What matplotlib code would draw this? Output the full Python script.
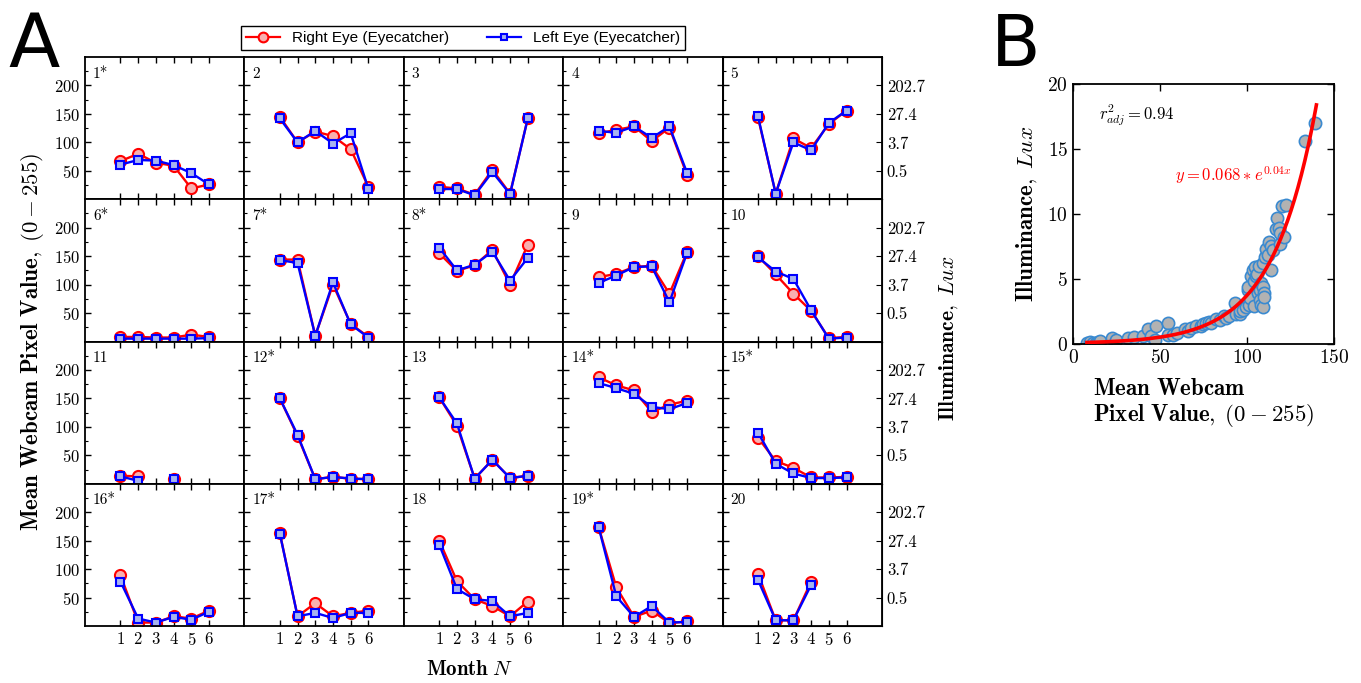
import matplotlib
matplotlib.use('Agg')
import matplotlib.pyplot as plt
import numpy as np
from matplotlib.lines import Line2D

plt.rcParams['font.family'] = ['cmr10']
plt.rcParams['mathtext.fontset'] = 'cm'
plt.rcParams['axes.formatter.use_mathtext'] = True

nan = np.nan

# panel A data (20 subjects, months 1..6)
months = [1, 2, 3, 4, 5, 6]
panel_names = ['1*', '2', '3', '4', '5', '6*', '7*', '8*', '9', '10',
               '11', '12*', '13', '14*', '15*', '16*', '17*', '18', '19*', '20']
right_eye = [
    [67, 80, 64, 59, 19, 26],
    [145, 100, 119, 111, 88, 22],
    [22, 19, 8, 52, 10, 142],
    [116, 122, 128, 102, 126, 42],
    [144, 10, 107, 90, 132, 156],
    [8, 8, 7, 7, 12, 8],
    [144, 144, 10, 100, 31, 8],
    [155, 124, 134, 161, 100, 170],
    [113, 119, 131, 133, 84, 158],
    [150, 118, 84, 54, 6, 8],
    [14, 13, nan, 8, nan, nan],
    [150, 84, 8, 12, 9, 8],
    [152, 102, 9, 42, 10, 14],
    [187, 173, 164, 126, 139, 146],
    [81, 40, 28, 11, 11, 12],
    [89, 6, 6, 17, 13, 27],
    [163, 17, 40, 17, 23, 27],
    [150, 79, 47, 35, 17, 43],
    [174, 68, 16, 27, 5, 8],
    [92, 10, 10, 78, nan, nan],
]
left_eye = [
    [61, 69, 68, 60, 46, 26],
    [142, 100, 120, 98, 116, 18],
    [18, 18, 7, 48, 9, 142],
    [120, 117, 128, 108, 128, 46],
    [146, 10, 100, 86, 134, 156],
    [5, 5, 5, 5, 5, 6],
    [143, 138, 10, 104, 30, 7],
    [165, 125, 135, 158, 107, 147],
    [103, 116, 131, 132, 69, 156],
    [148, 123, 110, 55, 5, 7],
    [13, 5, nan, 8, nan, nan],
    [150, 86, 8, 12, 9, 8],
    [152, 106, 9, 42, 10, 14],
    [177, 168, 158, 135, 131, 142],
    [90, 35, 18, 10, 10, 11],
    [78, 13, 6, 16, 11, 25],
    [162, 17, 23, 14, 23, 23],
    [143, 65, 47, 44, 17, 23],
    [174, 52, 16, 35, 6, 7],
    [81, 10, 10, 72, nan, nan],
]

# panel B data
pixel_values = [8.2, 10, 11.5, 13, 14.4, 15.3, 22.6, 25, 31.6, 35, 40.2, 43.1, 45, 47, 47.5,
                54.6, 54.6, 57.5, 60, 64.2, 66, 68, 70.9, 73.8, 75, 76.6, 78, 79.5, 82, 84.3,
                86.6, 88, 90, 92.9, 93.9, 95.8, 96, 98, 99.6, 101, 100.6, 100.6, 102, 102.5,
                103.4, 104, 104.4, 104, 105.4, 106, 106.3, 107.3, 107, 107.7, 108, 108.2,
                109.2, 109.8, 109.2, 110, 109.2, 110.2, 111.1, 112, 112.6, 113.6, 114, 115,
                116.9, 117.4, 118.4, 118.8, 119, 121.1, 120.3, 122.6, 133.7, 139]
lux_values = [0.05, 0.1, 0.05, 0.05, 0.1, 0.2, 0.4, 0.3, 0.4, 0.5, 0.6, 1.1, 0.6, 0.25, 1.4,
              1.6, 0.7, 0.7, 0.8, 1.1, 1.0, 1.2, 1.4, 1.4, 1.5, 1.6, 1.7, 1.6, 1.9, 1.8,
              2.1, 2.0, 2.1, 3.1, 2.3, 2.3, 2.5, 2.6, 2.8, 3.0, 4.1, 4.4, 3.5, 5.2,
              5.7, 4.8, 5.9, 2.9, 5.2, 5.4, 3.9, 4.1, 6.0, 3.4, 4.7, 3.0,
              4.4, 3.9, 2.8, 3.6, 6.2, 6.7, 7.3, 6.8, 7.8, 5.7, 7.5, 7.2,
              8.8, 9.7, 8.9, 7.7, 8.5, 8.2, 10.6, 10.7, 15.6, 17.0]
fit_a = 0.068
fit_b = 0.04


def to_lux(v):
    return fit_a * np.exp(fit_b * v)


fig = plt.figure(figsize=(13.61, 6.83), dpi=100)
gs = fig.add_gridspec(4, 5, left=0.0625, right=0.648, top=0.9165, bottom=0.0835,
                      wspace=0, hspace=0)

red_face = '#f8b0b0'
blue_face = '#a8b4f0'

for i in range(20):
    row, col = divmod(i, 5)
    ax = fig.add_subplot(gs[row, col])
    ax.plot(months, right_eye[i], '-o', color='red', mfc=red_face, mec='red',
            ms=8, mew=1.5, lw=1.7)
    ax.plot(months, left_eye[i], '-s', color='blue', mfc=blue_face, mec='blue',
            ms=5.5, mew=1.5, lw=1.7)
    ax.set_xlim(-1, 8)
    ax.set_ylim(0, 250)
    ax.set_xticks(months)
    ax.set_yticks([50, 100, 150, 200])
    ax.set_yticks([25, 75, 125, 175, 225], minor=True)
    ax.tick_params(which='major', direction='in', top=True, right=True,
                   length=4.5, width=1, labelsize=12)
    ax.tick_params(which='minor', direction='in', right=False, length=2, width=0.8)
    ax.tick_params(axis='x', which='minor', bottom=False, top=False)
    if col != 0:
        ax.tick_params(labelleft=False)
    if row != 3:
        ax.tick_params(labelbottom=False)
    for s in ax.spines.values():
        s.set_linewidth(1.3)
    ax.text(0.05, 0.93, panel_names[i], transform=ax.transAxes, va='top', ha='left',
            fontsize=11)
    if col == 4:
        ax2 = ax.twinx()
        ax2.set_ylim(0, 250)
        ticks = [50, 100, 150, 200]
        ax2.set_yticks(ticks)
        ax2.set_yticklabels(['%.1f' % to_lux(t) for t in ticks])
        ax2.tick_params(direction='in', length=4.5, labelsize=12)

fig.text(0.024, 0.5, r'$\mathbf{Mean\ Webcam\ Pixel\ Value,}\;(0-255)$', rotation=90,
         va='center', ha='center', fontsize=16.5)
fig.text(0.697, 0.505, r'$\mathbf{Illuminance,}\;Lux$', rotation=90,
         va='center', ha='center', fontsize=15.5)
fig.text(0.345, 0.02, r'$\mathbf{Month}\;N$', va='center', ha='center', fontsize=15)

handles = [Line2D([], [], color='red', marker='o', mfc=red_face, mec='red', ms=7, mew=1.5, lw=1.6),
           Line2D([], [], color='blue', marker='s', mfc=blue_face, mec='blue', ms=5, mew=1.5, lw=1.6)]
leg = fig.legend(handles, ['Right Eye (Eyecatcher)', 'Left Eye (Eyecatcher)'], ncol=2,
                 loc='center', bbox_to_anchor=(463 / 1361, 1 - 38 / 683),
                 prop={'family': 'Liberation Sans', 'size': 11}, fancybox=False,
                 edgecolor='black', framealpha=1, numpoints=1, handlelength=2.2,
                 borderpad=0.3, columnspacing=2.5)
leg.get_frame().set_linewidth(1)

fig.text(0.006, 0.985, 'A', family='DejaVu Sans', fontsize=54, va='top', ha='left')
fig.text(0.728, 0.982, 'B', family='DejaVu Sans', fontsize=52, va='top', ha='left')

# panel B
axb = fig.add_axes([0.7884, 0.4968, 0.1916, 0.3802])
axb.scatter(pixel_values, lux_values, s=78, facecolor='#b2b2b2', edgecolor='#3a8ad0',
            linewidth=1.2, zorder=2)
xf = np.linspace(8, 140, 200)
axb.plot(xf, to_lux(xf), color='red', lw=2.6, zorder=3)
axb.set_xlim(0, 150)
axb.set_ylim(0, 20)
axb.set_xticks([0, 50, 100, 150])
axb.set_yticks([0, 5, 10, 15, 20])
axb.tick_params(direction='in', top=True, right=True, length=5, width=1, labelsize=14)
for s in axb.spines.values():
    s.set_linewidth(1.3)
axb.text(15, 17.6, r'$r^2_{adj} = 0.94$', fontsize=12, va='center', ha='left')
axb.text(126, 13, r'$y = 0.068 * e^{0.04x}$', fontsize=12, color='red', va='center', ha='right')
axb.set_ylabel(r'$\mathbf{Illuminance,}\;Lux$', fontsize=16.5, labelpad=6)
axb.set_xlabel('$\\mathbf{Mean\\ Webcam}$\n$\\mathbf{Pixel\\ Value,}\\;(0-255)$',
               fontsize=16.5, multialignment='left', labelpad=8)

fig.savefig('out.png', dpi=100)
